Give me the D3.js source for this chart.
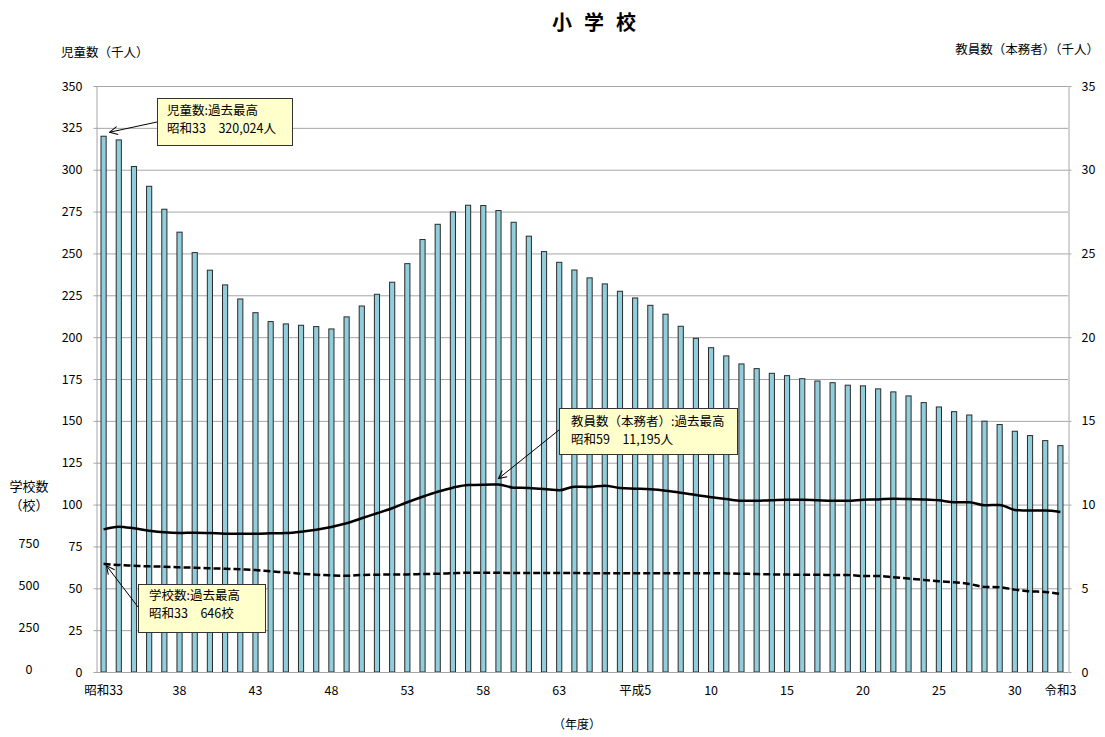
<!DOCTYPE html>
<html>
<head>
<meta charset="utf-8">
<script src="https://cdn.jsdelivr.net/npm/d3@7"></script>
<style>
    body { margin: 0; background: #ffffff; }
    text { font-family: "Noto Sans CJK JP", sans-serif; fill: #000000; }
</style>
</head>
<body>
<div id="chart-container"></div>
<script>
// 年度 (昭和33 = 1958 ... 令和3 = 2021)
const years = [
    1958, 1959, 1960, 1961, 1962, 1963, 1964, 1965, 1966, 1967, 1968, 1969, 1970, 1971, 1972, 1973,
    1974, 1975, 1976, 1977, 1978, 1979, 1980, 1981, 1982, 1983, 1984, 1985, 1986, 1987, 1988, 1989,
    1990, 1991, 1992, 1993, 1994, 1995, 1996, 1997, 1998, 1999, 2000, 2001, 2002, 2003, 2004, 2005,
    2006, 2007, 2008, 2009, 2010, 2011, 2012, 2013, 2014, 2015, 2016, 2017, 2018, 2019, 2020, 2021
];

// 児童数（千人）
const pupils = [
    320.0, 317.8, 301.9, 290.1, 276.4, 262.7, 250.5, 240.0, 231.2, 222.8, 214.6, 209.3, 207.9, 207.1, 206.3, 204.9,
    212.1, 218.6, 225.6, 232.8, 243.9, 258.3, 267.4, 274.8, 278.8, 278.6, 275.6, 268.6, 260.3, 251.1, 244.7, 240.1,
    235.4, 231.8, 227.4, 223.4, 219.0, 213.7, 206.5, 199.3, 193.7, 188.8, 184.0, 181.2, 178.4, 177.0, 175.2, 173.8,
    172.8, 171.3, 170.9, 169.1, 167.3, 164.9, 160.9, 158.3, 155.5, 153.5, 149.8, 147.8, 143.8, 141.2, 138.2, 135.2
];

// 教員数（本務者）（千人）
const teachers = [
    8.52, 8.68, 8.58, 8.44, 8.34, 8.30, 8.32, 8.30, 8.26, 8.26, 8.26, 8.28, 8.30, 8.38, 8.50, 8.66,
    8.88, 9.18, 9.48, 9.78, 10.14, 10.47, 10.77, 11.01, 11.17, 11.19, 11.195, 11.01, 10.99, 10.93, 10.85, 11.07,
    11.05, 11.13, 10.99, 10.95, 10.91, 10.83, 10.71, 10.57, 10.44, 10.33, 10.23, 10.23, 10.26, 10.29, 10.29, 10.26,
    10.23, 10.23, 10.29, 10.31, 10.35, 10.33, 10.31, 10.26, 10.14, 10.14, 9.96, 9.98, 9.68, 9.64, 9.64, 9.56
];

// 学校数（校）
const schools = [
    646, 639, 635, 631, 629, 625, 623, 619, 617, 613, 609, 601, 595, 587, 581, 577,
    575, 579, 581, 583, 583, 585, 587, 590, 593, 593, 593, 591, 591, 591, 591, 591,
    590, 590, 590, 590, 590, 590, 590, 590, 590, 589, 587, 585, 583, 582, 581, 581,
    579, 579, 573, 573, 566, 558, 550, 542, 536, 526, 508, 506, 492, 482, 478, 466
];

// x軸の目盛ラベル
const tickYears = [1958, 1963, 1968, 1973, 1978, 1983, 1988, 1993, 1998, 2003, 2008, 2013, 2018, 2021];
const tickLabels = ['昭和33', '38', '43', '48', '53', '58', '63', '平成5', '10', '15', '20', '25', '30', '令和3'];

const pupilTicks = [0, 25, 50, 75, 100, 125, 150, 175, 200, 225, 250, 275, 300, 325, 350];
const teacherTicks = [0, 5, 10, 15, 20, 25, 30, 35];
const schoolTicks = [0, 250, 500, 750];

// 吹き出し
const notes = [
    { lines: ['児童数:過去最高', '昭和33　320,024人'], year: 1958, series: 'pupils' },
    { lines: ['教員数（本務者）:過去最高', '昭和59　11,195人'], year: 1984, series: 'teachers' },
    { lines: ['学校数:過去最高', '昭和33　646校'], year: 1958, series: 'schools' }
];
// box layout for each note (pixels)
const noteBoxes = [
    { x: 157, y: 98, w: 135, h: 47, tx: 10, ty: [14, 32], from: [157, 122], dx: 6, dy: -4 },
    { x: 559, y: 408, w: 178, h: 46, tx: 12, ty: [15, 33], from: [559, 430], dx: 0, dy: -6 },
    { x: 138, y: 584, w: 127, h: 48, tx: 11, ty: [13, 31], from: [138, 607], dx: 3, dy: 2 }
];

let svg;
const width = 1105, height = 737;
const plotLeft = 96, plotRight = 1068, plotTop = 86, plotBottom = 672;

function drawChart() {
    svg = d3.select('#chart-container')
        .append('svg')
        .attr('width', width)
        .attr('height', height);

    const x = d3.scaleBand()
        .domain(years)
        .range([plotLeft, plotRight])
        .paddingInner(0.66)
        .paddingOuter(0.33);

    const yL = d3.scaleLinear().domain([0, 350]).range([plotBottom, plotTop]);
    const yR = d3.scaleLinear().domain([0, 35]).range([plotBottom, plotTop]);
    const yS = d3.scaleLinear().domain([0, 3500]).range([plotBottom, plotTop]);

    const cx = d => x(d) + x.bandwidth() / 2;

    // gridlines
    svg.append('g')
        .selectAll('line')
        .data(pupilTicks)
        .enter()
        .append('line')
        .attr('x1', plotLeft)
        .attr('x2', plotRight)
        .attr('y1', d => yL(d) + 0.5)
        .attr('y2', d => yL(d) + 0.5)
        .attr('stroke', '#a6a6a6')
        .attr('stroke-width', 1);

    // left axis (児童数)
    const axL = svg.append('g')
        .attr('transform', `translate(${plotLeft + 0.5},0)`)
        .call(d3.axisLeft(yL).tickValues(pupilTicks).tickSize(3).tickPadding(11).tickSizeOuter(0));
    axL.selectAll('text').style('font-size', '12.5px');

    // right axis (教員数)
    const axR = svg.append('g')
        .attr('transform', `translate(${plotRight + 0.5},0)`)
        .call(d3.axisRight(yR).tickValues(teacherTicks).tickSize(3).tickPadding(10).tickSizeOuter(0));
    axR.selectAll('text').style('font-size', '12.5px');

    // school count axis (labels only)
    const axS = svg.append('g')
        .attr('transform', 'translate(29,-3)')
        .call(d3.axisLeft(yS).tickValues(schoolTicks).tickSize(0).tickPadding(0));
    axS.select('.domain').remove();
    axS.selectAll('text').attr('text-anchor', 'middle').attr('x', 0).style('font-size', '12.5px');

    [axL, axR].forEach(ax => {
        ax.select('.domain').attr('stroke', '#a6a6a6');
        ax.selectAll('.tick line').attr('stroke', '#a6a6a6');
    });

    // bars
    svg.append('g')
        .selectAll('rect')
        .data(years)
        .enter()
        .append('rect')
        .attr('x', d => x(d))
        .attr('width', x.bandwidth())
        .attr('y', (d, i) => yL(pupils[i]))
        .attr('height', (d, i) => plotBottom - yL(pupils[i]))
        .attr('fill', '#92cddc')
        .attr('stroke', '#2b2b2b')
        .attr('stroke-width', 1);

    // bottom axis line
    svg.append('line')
        .attr('x1', plotLeft).attr('x2', plotRight)
        .attr('y1', plotBottom + 0.5).attr('y2', plotBottom + 0.5)
        .attr('stroke', '#a6a6a6');

    // x labels
    svg.append('g')
        .selectAll('text')
        .data(tickYears)
        .enter()
        .append('text')
        .attr('x', d => cx(d))
        .attr('y', 692)
        .attr('text-anchor', 'middle')
        .attr('dominant-baseline', 'middle')
        .style('font-size', '12.5px')
        .text((d, i) => tickLabels[i]);

    // teachers line
    const teacherLine = d3.line()
        .x((d, i) => cx(years[i]))
        .y(d => yR(d))
        .curve(d3.curveMonotoneX);

    svg.append('path')
        .datum(teachers)
        .attr('d', teacherLine)
        .attr('fill', 'none')
        .attr('stroke', '#000000')
        .attr('stroke-width', 2.5);

    // schools line (dashed)
    const schoolLine = d3.line()
        .x((d, i) => cx(years[i]))
        .y(d => yS(d))
        .curve(d3.curveMonotoneX);

    svg.append('path')
        .datum(schools)
        .attr('d', schoolLine)
        .attr('fill', 'none')
        .attr('stroke', '#000000')
        .attr('stroke-width', 2.5)
        .attr('stroke-dasharray', '7,3');

    // titles
    svg.append('text')
        .attr('x', 600)
        .attr('y', 25)
        .attr('text-anchor', 'middle')
        .attr('dominant-baseline', 'middle')
        .style('font-size', '20px')
        .style('font-weight', 'bold')
        .style('letter-spacing', '12px')
        .text('小学校');

    svg.append('text')
        .attr('x', 61).attr('y', 54)
        .attr('dominant-baseline', 'middle')
        .style('font-size', '12.5px')
        .text('児童数（千人）');

    svg.append('text')
        .attr('x', 1099).attr('y', 51)
        .attr('text-anchor', 'end')
        .attr('dominant-baseline', 'middle')
        .style('font-size', '12.5px')
        .text('教員数（本務者）（千人）');

    svg.append('text')
        .attr('x', 29).attr('y', 487)
        .attr('text-anchor', 'middle')
        .attr('dominant-baseline', 'middle')
        .style('font-size', '13px')
        .text('学校数');

    svg.append('text')
        .attr('x', 29).attr('y', 506)
        .attr('text-anchor', 'middle')
        .attr('dominant-baseline', 'middle')
        .style('font-size', '13px')
        .text('（校）');

    svg.append('text')
        .attr('x', 577).attr('y', 726)
        .attr('text-anchor', 'middle')
        .attr('dominant-baseline', 'middle')
        .style('font-size', '12px')
        .text('（年度）');

    drawNotes(cx, { pupils: d => yL(pupils[d]), teachers: d => yR(teachers[d]), schools: d => yS(schools[d]) });
}

function drawNotes(cx, ySeries) {
    svg.append('defs')
        .append('marker')
        .attr('id', 'arrow')
        .attr('viewBox', '0 0 10 10')
        .attr('refX', 9)
        .attr('refY', 5)
        .attr('markerWidth', 10)
        .attr('markerHeight', 10)
        .attr('markerUnits', 'userSpaceOnUse')
        .attr('orient', 'auto')
        .append('path')
        .attr('d', 'M1,1 L9,5 L1,9')
        .attr('fill', 'none')
        .attr('stroke', '#000000')
        .attr('stroke-width', 1);

    notes.forEach((note, k) => {
        const b = noteBoxes[k];
        const i = years.indexOf(note.year);
        const ex = cx(note.year) + b.dx;
        const ey = ySeries[note.series](i) + b.dy;

        svg.append('line')
            .attr('x1', b.from[0]).attr('y1', b.from[1])
            .attr('x2', ex).attr('y2', ey)
            .attr('stroke', '#000000')
            .attr('stroke-width', 1)
            .attr('marker-end', 'url(#arrow)');

        svg.append('rect')
            .attr('x', b.x + 0.5).attr('y', b.y + 0.5)
            .attr('width', b.w).attr('height', b.h)
            .attr('fill', '#ffffcc')
            .attr('stroke', '#333333')
            .attr('stroke-width', 1);

        note.lines.forEach((line, j) => {
            svg.append('text')
                .attr('x', b.x + b.tx)
                .attr('y', b.y + b.ty[j])
                .attr('dominant-baseline', 'middle')
                .style('font-size', '12.5px')
                .text(line);
        });
    });
}

document.addEventListener('DOMContentLoaded', () => {
    drawChart();
});
</script>
</body>
</html>
